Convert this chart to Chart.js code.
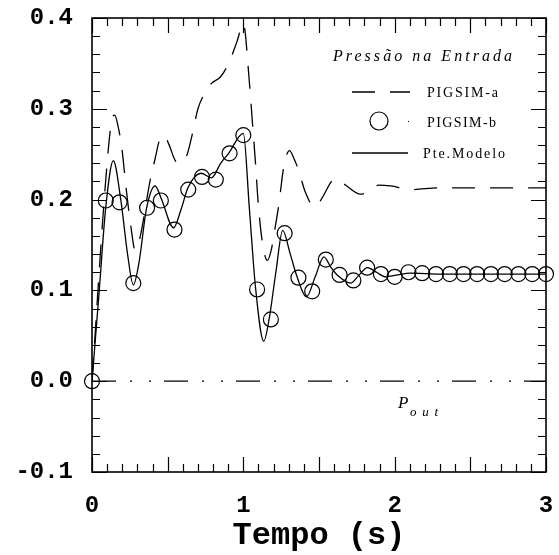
<!DOCTYPE html>
<html>
<head>
<meta charset="UTF-8"/>
<script src="https://cdn.jsdelivr.net/npm/chart.js@4.4.1/dist/chart.umd.min.js"></script>
<style>body{margin:0;background:#fff}</style>
</head>
<body>
<canvas id="chart" width="559" height="555"></canvas>
<script>
// PIGSIM-a (linha tracejada)
const tempoA = [0, 0.09, 0.13, 0.15, 0.172, 0.197, 0.225, 0.258, 0.285, 0.318, 0.384, 0.417, 0.445, 0.475,
  0.51, 0.55, 0.583, 0.627, 0.66, 0.70, 0.748, 0.79, 0.848, 0.903, 0.958, 1.0, 1.04, 1.06, 1.08, 1.097,
  1.124, 1.159, 1.185, 1.207, 1.234, 1.267, 1.305, 1.335, 1.366, 1.41, 1.47, 1.51, 1.587, 1.61, 1.675,
  1.775, 1.83, 1.894, 1.974, 2.106, 2.3, 3.0];
const pressaoA = [0, 0.22, 0.287, 0.293, 0.281, 0.257, 0.213, 0.169, 0.144, 0.159, 0.221, 0.245, 0.265, 0.271,
  0.26, 0.243, 0.24, 0.249, 0.27, 0.30, 0.318, 0.328, 0.335, 0.35, 0.374, 0.394, 0.329, 0.285, 0.241, 0.199,
  0.155, 0.133, 0.145, 0.166, 0.194, 0.236, 0.254, 0.245, 0.232, 0.208, 0.192, 0.199, 0.221, 0.223, 0.216,
  0.206, 0.209, 0.216, 0.215, 0.211, 0.213, 0.213];

// PIGSIM-b (circulos)
const tempoB = [0, 0.091, 0.182, 0.273, 0.364, 0.455, 0.545, 0.636, 0.727, 0.818, 0.909, 1.0,
  1.091, 1.182, 1.273, 1.364, 1.455, 1.545, 1.636, 1.727, 1.818, 1.909, 2.0, 2.091, 2.182,
  2.273, 2.364, 2.455, 2.545, 2.636, 2.727, 2.818, 2.909, 3.0];
const pressaoB = [0, 0.199, 0.197, 0.108, 0.191, 0.199, 0.167, 0.211, 0.225, 0.222, 0.251, 0.271,
  0.101, 0.068, 0.163, 0.114, 0.099, 0.134, 0.117, 0.111, 0.125, 0.118, 0.115, 0.120, 0.119,
  0.118, 0.118, 0.118, 0.118, 0.118, 0.118, 0.118, 0.118, 0.118];

// Pte.Modelo (linha cheia)
const tempoM = [0, 0.048, 0.09, 0.141, 0.19, 0.235, 0.273, 0.31, 0.36, 0.417, 0.46, 0.539, 0.59, 0.634,
  0.72, 0.79, 0.85, 0.903, 1.0, 1.04, 1.08, 1.135, 1.17, 1.215, 1.26, 1.31, 1.355, 1.417, 1.475, 1.532,
  1.58, 1.62, 1.71, 1.76, 1.82, 1.88, 1.94, 2.02, 2.1, 2.3, 3.0];
const pressaoM = [0, 0.10, 0.19, 0.243, 0.20, 0.14, 0.106, 0.13, 0.19, 0.215, 0.20, 0.169, 0.19, 0.213,
  0.229, 0.224, 0.240, 0.251, 0.273, 0.19, 0.104, 0.044, 0.068, 0.12, 0.166, 0.14, 0.115, 0.093, 0.115, 0.137,
  0.125, 0.117, 0.108, 0.116, 0.125, 0.12, 0.115, 0.117, 0.119, 0.118, 0.118];

// P_out
const tempoOut = [0, 3];
const pressaoOut = [0, 0];

const pares = (xs, ys) => xs.map((t, i) => ({x: t, y: ys[i]}));

function textoEspacado(ctx, txt, x, y, largura) {
  ctx.letterSpacing = '0px';
  const w = ctx.measureText(txt).width;
  ctx.letterSpacing = ((largura - w) / (txt.length - 1)) + 'px';
  ctx.fillText(txt, x, y);
  ctx.letterSpacing = '0px';
}

const moldura = {
  id: 'moldura',
  afterDraw(chart) {
    const {ctx, chartArea: a, scales: {x, y}} = chart;
    ctx.save();
    ctx.strokeStyle = '#000';
    ctx.lineWidth = 1.6;
    ctx.strokeRect(a.left, a.top, a.right - a.left, a.bottom - a.top);
    ctx.lineWidth = 1.2;
    ctx.beginPath();
    for (let k = 0; k <= 30; k++) {
      const px = Math.round(x.getPixelForValue(k / 10)) + 0.5;
      const len = k % 5 === 0 ? 15 : 8;
      ctx.moveTo(px, a.bottom); ctx.lineTo(px, a.bottom - len);
      ctx.moveTo(px, a.top); ctx.lineTo(px, a.top + len);
    }
    for (let k = -5; k <= 20; k++) {
      const py = Math.round(y.getPixelForValue(k / 50)) + 0.5;
      const len = k % 5 === 0 ? 15 : 8;
      ctx.moveTo(a.left, py); ctx.lineTo(a.left + len, py);
      ctx.moveTo(a.right, py); ctx.lineTo(a.right - len, py);
    }
    ctx.stroke();

    // legenda
    const ds = chart.data.datasets;
    ctx.fillStyle = '#000';
    ctx.font = 'italic 16px "Liberation Serif"';
    textoEspacado(ctx, 'Pressão na Entrada', 333, 61, 179);

    ctx.font = '14px "Liberation Serif"';
    ctx.lineWidth = ds[0].borderWidth;
    ctx.setLineDash(ds[0].borderDash);
    ctx.beginPath(); ctx.moveTo(352, 92); ctx.lineTo(410, 92); ctx.stroke();
    ctx.setLineDash([]);
    textoEspacado(ctx, ds[0].label, 427, 96.5, 71);

    ctx.lineWidth = ds[1].pointBorderWidth;
    ctx.beginPath(); ctx.arc(379, 121, 9, 0, Math.PI * 2); ctx.stroke();
    ctx.fillRect(408, 121, 1, 1);
    textoEspacado(ctx, ds[1].label, 427, 126.5, 69);

    ctx.lineWidth = ds[2].borderWidth;
    ctx.beginPath(); ctx.moveTo(352, 153); ctx.lineTo(408, 153); ctx.stroke();
    textoEspacado(ctx, ds[2].label, 423, 158, 82);

    // P_out
    ctx.font = 'italic 17px "Liberation Serif"';
    ctx.fillText('P', 398, 408);
    ctx.font = 'italic 13px "Liberation Serif"';
    textoEspacado(ctx, 'out', 410, 416, 28);
    ctx.restore();
  }
};

const fonteEixo = {family: '"Liberation Mono", monospace', size: 24, weight: 'bold'};

new Chart(document.getElementById('chart').getContext('2d'), {
  type: 'scatter',
  data: {
    datasets: [
      {label: 'PIGSIM-a', data: pares(tempoA, pressaoA), showLine: true, borderColor: '#000',
       borderWidth: 1.3, borderDash: [23, 15], pointRadius: 0, cubicInterpolationMode: 'monotone'},
      {label: 'PIGSIM-b', data: pares(tempoB, pressaoB), showLine: false, pointStyle: 'circle',
       pointRadius: 7.5, pointBorderWidth: 1.2, pointBorderColor: '#000',
       pointBackgroundColor: 'rgba(0,0,0,0)', clip: false},
      {label: 'Pte.Modelo', data: pares(tempoM, pressaoM), showLine: true, borderColor: '#000',
       borderWidth: 1.3, pointRadius: 0, cubicInterpolationMode: 'monotone'},
      {label: 'Pout', data: pares(tempoOut, pressaoOut), showLine: true, borderColor: '#000',
       borderWidth: 1.2, borderDash: [24, 14, 2, 17, 2, 13], pointRadius: 0}
    ]
  },
  options: {
    responsive: false,
    animation: false,
    layout: {padding: {left: 0, top: 18, right: 13, bottom: 0}},
    plugins: {legend: {display: false}, tooltip: {enabled: false}},
    scales: {
      x: {
        type: 'linear', min: 0, max: 3,
        grid: {display: false, drawTicks: false}, border: {display: false},
        ticks: {stepSize: 1, padding: 20, color: '#000', font: fonteEixo, callback: v => String(v)},
        title: {display: true, text: 'Tempo (s)', color: '#000',
                font: {family: '"Liberation Mono", monospace', size: 32, weight: 'bold'},
                padding: {top: 0, bottom: 0}},
        afterFit: s => { s.height = 83; s.paddingLeft = 0; s.paddingRight = 0; }
      },
      y: {
        min: -0.1, max: 0.4,
        grid: {display: false, drawTicks: false}, border: {display: false},
        ticks: {stepSize: 0.1, padding: 19, color: '#000', font: fonteEixo, callback: v => v.toFixed(1)},
        afterFit: s => { s.width = 92; s.paddingTop = 0; s.paddingBottom = 0; }
      }
    }
  },
  plugins: [moldura]
});
</script>
</body>
</html>
